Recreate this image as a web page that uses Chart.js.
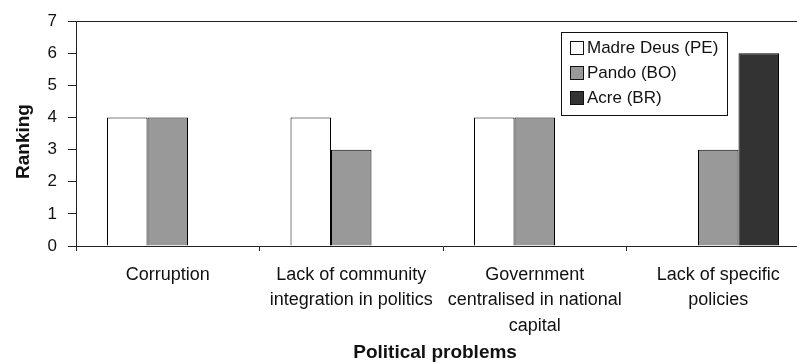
<!DOCTYPE html>
<html>
<head>
<meta charset="utf-8">
<script src="https://cdn.jsdelivr.net/npm/chart.js@4/dist/chart.umd.min.js"></script>
<style>
  html, body { margin: 0; padding: 0; background: #fff; overflow: hidden; }
  #wrap { position: relative; width: 812px; height: 364px; }
</style>
</head>
<body>
<div id="wrap"><canvas id="c" width="812" height="364"></canvas></div>
<script>
// Political problems ranked by site
const categories = [
  'Corruption',
  ['Lack of community', 'integration in politics'],
  ['Government', 'centralised in national', 'capital'],
  ['Lack of specific', 'policies']
];
const madreDeus = [4, 4, 4, null];
const pando     = [4, 3, 4, 3];
const acre      = [null, null, null, 6];
const yTicks    = [0, 1, 2, 3, 4, 5, 6, 7];

const FONT = 'Liberation Sans, Arial, sans-serif';

// Boxed legend drawn inside the plot area
const boxLegend = {
  id: 'boxLegend',
  afterDraw(chart) {
    const ctx = chart.ctx;
    const x0 = 561, y0 = 32, w = 166, h = 83;
    ctx.save();
    ctx.fillStyle = '#fff';
    ctx.fillRect(x0, y0, w, h);
    ctx.strokeStyle = '#111';
    ctx.lineWidth = 1;
    ctx.strokeRect(x0 + 0.5, y0 + 0.5, w, h);
    ctx.font = '17px ' + FONT;
    ctx.textBaseline = 'middle';
    ctx.textAlign = 'left';
    chart.data.datasets.forEach((ds, i) => {
      const cy = 47 + i * 25;
      ctx.fillStyle = ds.backgroundColor;
      ctx.fillRect(570, cy - 6, 13, 13);
      ctx.strokeStyle = '#111';
      ctx.strokeRect(570.5, cy - 5.5, 13, 13);
      ctx.fillStyle = '#111';
      ctx.fillText(ds.label, 587, cy + 1);
    });
    ctx.restore();
  }
};

// Upper frame line of the plot area
const topFrame = {
  id: 'topFrame',
  beforeDatasetsDraw(chart) {
    const { ctx, chartArea } = chart;
    ctx.save();
    ctx.strokeStyle = '#222';
    ctx.lineWidth = 1;
    ctx.beginPath();
    ctx.moveTo(chartArea.left, Math.round(chartArea.top) + 0.5);
    ctx.lineTo(chartArea.right, Math.round(chartArea.top) + 0.5);
    ctx.stroke();
    ctx.restore();
  }
};

new Chart(document.getElementById('c'), {
  type: 'bar',
  data: {
    labels: categories,
    datasets: [
      { label: 'Madre Deus (PE)', data: madreDeus, backgroundColor: '#ffffff' },
      { label: 'Pando (BO)',      data: pando,     backgroundColor: '#999999' },
      { label: 'Acre (BR)',       data: acre,      backgroundColor: '#333333' }
    ].map(d => Object.assign(d, {
      borderColor: '#000', borderWidth: 1, borderSkipped: 'bottom',
      categoryPercentage: 0.662, barPercentage: 1.0
    }))
  },
  options: {
    responsive: false,
    animation: false,
    layout: { padding: { top: 19, right: 2, left: 0, bottom: 0 } },
    plugins: { legend: { display: false }, tooltip: { enabled: false } },
    scales: {
      x: {
        grid: { drawOnChartArea: false, tickLength: 5, color: '#222', offset: true },
        border: { color: '#222', width: 1 },
        ticks: {
          color: '#111', font: { family: FONT, size: 18, lineHeight: 1.39 },
          maxRotation: 0, autoSkip: false, padding: 12
        },
        title: {
          display: true, text: 'Political problems   ', color: '#111',
          font: { family: FONT, size: 19, weight: 'bold' },
          padding: { top: 0, bottom: 0 }
        },
        afterFit(s) { s.height = 118; }
      },
      y: {
        min: 0, max: 7,
        afterBuildTicks(s) { s.ticks = yTicks.map(v => ({ value: v })); },
        grid: { drawOnChartArea: false, tickLength: 8, color: '#222' },
        border: { color: '#222', width: 1 },
        ticks: { color: '#111', font: { family: FONT, size: 17 }, padding: 11 },
        title: {
          display: true, text: 'Ranking   ', color: '#111',
          font: { family: FONT, size: 19, weight: 'bold' },
          padding: { top: 12.6, bottom: 0 }
        },
        afterFit(s) { s.width = 76; }
      }
    }
  },
  plugins: [boxLegend, topFrame]
});
</script>
</body>
</html>
